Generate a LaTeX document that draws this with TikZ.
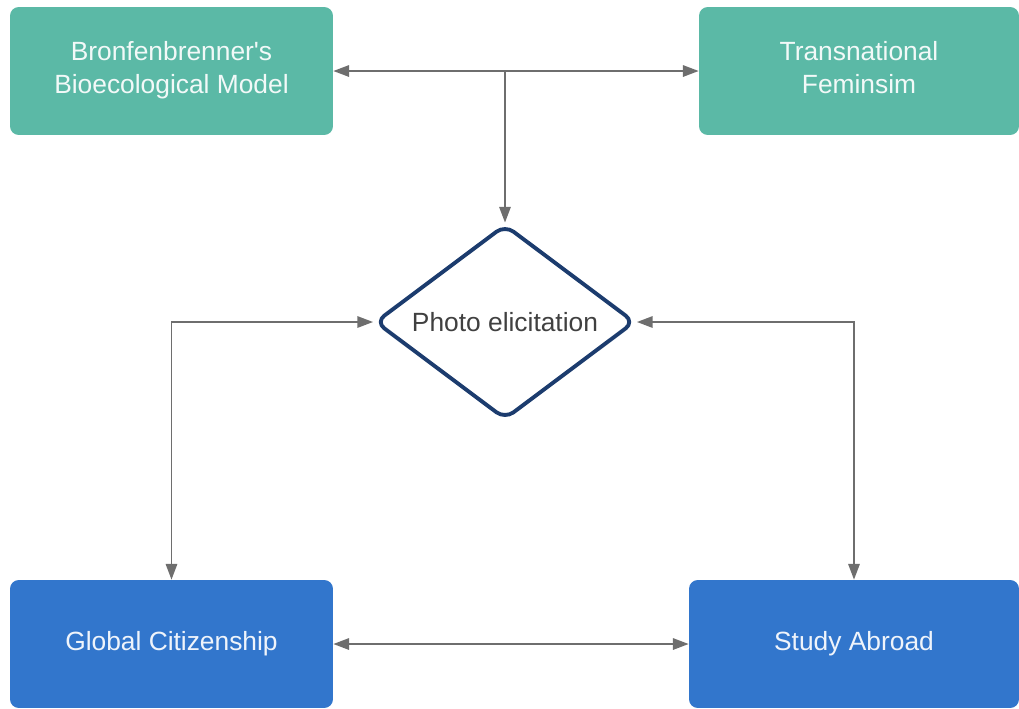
\documentclass[tikz,border=0pt]{standalone}
\usepackage{fontspec}
\setmainfont{Liberation Sans}
\usetikzlibrary{arrows.meta, shapes.geometric}
\definecolor{theoryTeal}{HTML}{5BB9A6}
\definecolor{contextBlue}{HTML}{3276CC}
\definecolor{methodNavy}{HTML}{1C3C6E}
\definecolor{linkGray}{HTML}{6E6E6E}
\definecolor{labelGray}{HTML}{404040}
\tikzset{
  % Theory boxes (top row)
  theory/.style={
    rectangle, rounded corners=5pt, fill=theoryTeal, draw=none,
    align=center, font=\fontsize{15}{18.5}\selectfont, text=white!92!theoryTeal,
    minimum height=2.56cm, inner sep=0pt
  },
  % Context boxes (bottom row)
  context/.style={
    rectangle, rounded corners=5pt, fill=contextBlue, draw=none,
    align=center, font=\fontsize{15}{18}\selectfont, text=white!92!contextBlue,
    minimum height=2.56cm, inner sep=0pt
  },
  % Method diamond
  method/.style={
    diamond, draw=methodNavy, line width=2.2pt, rounded corners=6pt,
    fill=white, shape aspect=1.34, inner sep=0pt,
    font=\fontsize{15}{18}\selectfont, text=labelGray,
    minimum width=5.2cm, minimum height=3.9cm
  },
  % Links
  link/.style={
    draw=linkGray, line width=1.1pt,
    -{Triangle[length=9pt, width=6.5pt]}
  },
  bilink/.style={
    draw=linkGray, line width=1.1pt,
    {Triangle[length=9pt, width=6.5pt]}-{Triangle[length=9pt, width=6.5pt]}
  },
}

\begin{document}
\begin{tikzpicture}[x=0.02cm, y=-0.02cm]

  \useasboundingbox (0,0) rectangle (1019,708);

  %% -- Theories --
  \node[theory, minimum width=6.46cm, text depth=0.15cm] (bronf) at (171.5,71)
        {Bronfenbrenner\textquotesingle s\\Bioecological Model};
  \node[theory, minimum width=6.4cm, text depth=0.15cm]  (trans) at (859,71)
        {Transnational\\Feminsim};

  %% -- Method --
  \node[method] (photo) at (505,322) {Photo elicitation};

  %% -- Contexts --
  \node[context, minimum width=6.46cm] (glob)  at (171.5,644) {Global Citizenship};
  \node[context, minimum width=6.6cm]  (study) at (854,644)   {Study Abroad};

  %% -- Links --
  \draw[bilink] (bronf.east) -- (trans.west);
  \draw[link]   (bronf.east -| photo.north) -- (photo.north);
  \draw[bilink] (photo.west) -| (glob.north);
  \draw[bilink] (photo.east) -| (study.north);
  \draw[bilink] (glob.east) -- (study.west);

\end{tikzpicture}
\end{document}
